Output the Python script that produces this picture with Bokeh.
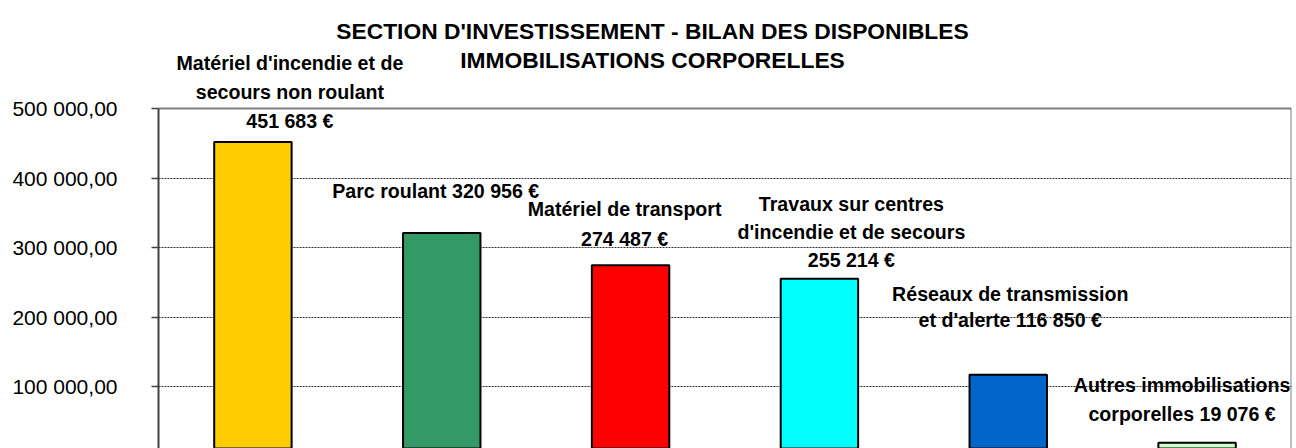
from bokeh.plotting import figure
from bokeh.models import Range1d, FactorRange, FixedTicker, Label, ColumnDataSource
from bokeh.embed import file_html
from bokeh.resources import INLINE

# ---------------- data ----------------
categories = [
    "Matériel d'incendie et de secours non roulant",
    "Parc roulant",
    "Matériel de transport",
    "Travaux sur centres d'incendie et de secours",
    "Réseaux de transmission et d'alerte",
    "Autres immobilisations corporelles",
]
values = [451683, 320956, 274487, 255214, 116850, 19076]
colors = ["#FFCC00", "#339966", "#FF0000", "#00FFFF", "#0066CC", "#CCFFCC"]
label_lines = [
    ["Matériel d'incendie et de", "secours non roulant", "{v}"],
    ["Parc roulant {v}"],
    ["Matériel de transport", "{v}"],
    ["Travaux sur centres", "d'incendie et de secours", "{v}"],
    ["Réseaux de transmission", "et d'alerte {v}"],
    ["Autres immobilisations", "corporelles {v}"],
]
y_ticks = [100000, 200000, 300000, 400000, 500000]
title_lines = ["SECTION D'INVESTISSEMENT - BILAN DES DISPONIBLES",
               "IMMOBILISATIONS CORPORELLES"]

# ---------------- layout (screen offsets of the labels) ----------------
label_dx = [37, -6, -6, 32, 2, -15]
label_dy = [[79, 50, 21], [42], [56, 26], [75, 47, 19], [81, 55], [58, 29]]
title_xy = [(494, 418), (494, 389)]   # screen units, from frame's left / bottom

FONT = "Liberation Sans"


def euro(v):
    return f"{v:,}".replace(",", " ") + " €"


def tick_text(t):
    return f"{t:,.2f}".replace(",", " ").replace(".", ",")


src = ColumnDataSource(dict(cat=categories, val=values, color=colors))
y_top = max(y_ticks)

# the visible part of the value axis runs from ~10 800 (bottom edge, chart
# cropped there in the reference) to the top of the picture
p = figure(
    width=1296, height=448,
    x_range=FactorRange(*categories),
    y_range=Range1d(10800, 655400),
    x_axis_location=None,
    output_backend="svg", toolbar_location=None,
    min_border_left=158, min_border_right=5, min_border_top=0, min_border_bottom=0,
)
p.background_fill_color = "white"
p.border_fill_color = "white"
p.outline_line_color = None

p.xgrid.visible = False
p.ygrid.ticker = FixedTicker(ticks=y_ticks[:-1])
p.ygrid.grid_line_color = "#333333"
p.ygrid.grid_line_dash = "2 1"
p.ygrid.grid_line_width = 1

# plot-area border (top and right), as in the reference
n = len(categories)
p.segment(x0=[0, n], y0=[y_top, 0], x1=[n, n], y1=[y_top, y_top],
          line_color="#808080", line_width=2)

p.vbar(x="cat", top="val", bottom=0, width=0.41, fill_color="color",
       line_color="black", line_width=2, source=src)

# y axis
ax = p.yaxis[0]
ax.bounds = (0, y_top)
ax.ticker = FixedTicker(ticks=y_ticks)
ax.major_label_overrides = {t: tick_text(t) for t in y_ticks}
ax.major_label_text_font = FONT
ax.major_label_text_font_size = "21px"
ax.major_label_text_color = "black"
ax.major_label_standoff = 34
ax.major_tick_out = 7
ax.major_tick_in = 0
ax.minor_tick_out = 0
ax.minor_tick_in = 0
ax.axis_line_color = "#404040"
ax.axis_line_width = 2
ax.major_tick_line_color = "#404040"
ax.major_tick_line_width = 1.5

# bar labels (x = centre of the i-th factor in the categorical range)
for i, (v, lines, dx, dys) in enumerate(zip(values, label_lines, label_dx, label_dy)):
    for line, dy in zip(lines, dys):
        p.add_layout(Label(
            x=i + 0.5, y=v, x_offset=dx, y_offset=dy,
            text=line.format(v=euro(v)),
            text_align="center", text_baseline="middle",
            text_font=FONT, text_font_style="bold",
            text_font_size="19.6px", text_color="black",
        ))

# title
for line, (tx, ty) in zip(title_lines, title_xy):
    p.add_layout(Label(
        x=tx, y=ty, x_units="screen", y_units="screen",
        text=line, text_align="center", text_baseline="middle",
        text_font=FONT, text_font_style="bold",
        text_font_size="22.8px", text_color="black",
    ))

open("out.html", "w").write(file_html(p, INLINE))
